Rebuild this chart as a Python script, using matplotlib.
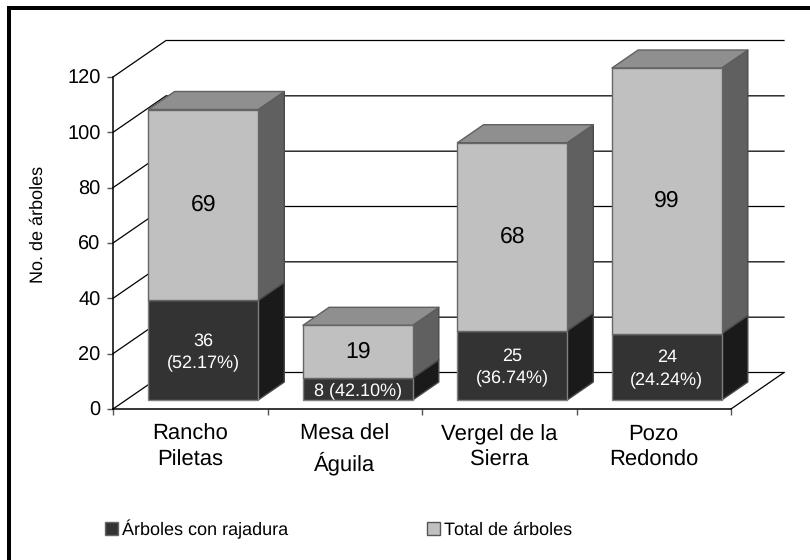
import matplotlib
matplotlib.use("Agg")
import matplotlib.pyplot as plt
import numpy as np
from matplotlib.patches import Patch, Polygon, Rectangle

plt.rcParams["font.family"] = ["Liberation Sans", "DejaVu Sans"]
plt.rcParams["text.hinting"] = "no_hinting"
plt.rcParams["text.hinting_factor"] = 1

# Datos
sitios = ["Rancho\nPiletas", "Mesa del\nÁguila", "Vergel de la\nSierra", "Pozo\nRedondo"]
rajadura = [36, 8, 25, 24]
total = [69, 19, 68, 99]
etiquetas_rajadura = ["36\n(52.17%)", "8 (42.10%)", "25\n(36.74%)", "24\n(24.24%)"]
marcas_y = [0, 20, 40, 60, 80, 100, 120]

W, H = 810, 560
fig = plt.figure(figsize=(W / 100, H / 100), dpi=100)
x0, x1, y0, y1 = 113, 731, 409, 77
ax = fig.add_axes([x0 / W, 1 - y0 / H, (x1 - x0) / W, (y0 - y1) / H])
ax.set_xlim(0, 4)
ax.set_ylim(0, 120)

# profundidad en pixeles -> unidades de datos
ux = 4 / (x1 - x0)
uy = 120 / (y0 - y1)
prof_x, prof_y = 53, 36.5


def pt(x, y, d):
    # d va de 0 (frente) a 1 (pared del fondo)
    return (x + d * prof_x * ux, y + d * prof_y * uy)


def poly(puntos, color, borde, z, lw=1.0):
    ax.add_patch(Polygon(puntos, closed=True, facecolor=color, edgecolor=borde,
                         linewidth=lw, zorder=z, clip_on=False, joinstyle="round"))


# Rejilla: pared lateral y pared del fondo
for v in marcas_y:
    ax.plot(*zip(pt(0, v, 0), pt(0, v, 1), pt(4, v, 1)), color="black", lw=0.9,
            zorder=1, clip_on=False, solid_joinstyle="miter")
ax.plot(*zip(pt(4, 0, 0), pt(4, 0, 1)), color="black", lw=0.9, zorder=1, clip_on=False)


# Barras 3D apiladas (la barra se corta en el maximo del eje, como en el original)
ancho = 0.71
d0, d1 = 9 / prof_y, 27 / prof_y


def caja(i, base, alto, frente, lado, tapa, borde, z):
    a = i + 0.5 - ancho / 2
    b = i + 0.5 + ancho / 2
    c = min(base + alto, ax.get_ylim()[1])
    poly([pt(b, base, d0), pt(b, base, d1), pt(b, c, d1), pt(b, c, d0)], lado, "#4a4a4a", z)
    if tapa is not None:
        poly([pt(a, c, d0), pt(b, c, d0), pt(b, c, d1), pt(a, c, d1)], tapa, "#606060", z)
    poly([pt(a, base, d0), pt(b, base, d0), pt(b, c, d0), pt(a, c, d0)], frente, borde, z + 0.1)
    return (base + c) / 2


for i in range(len(sitios)):
    medio = caja(i, 0, rajadura[i], "#333333", "#1a1a1a", None, "#808080", 3 + i)
    xt, yt = pt(i + 0.5, medio - 0.6, d0)
    ax.text(xt, yt, etiquetas_rajadura[i], color="white", fontsize=12.9, ha="center",
            va="center", zorder=20, linespacing=1.4)
    medio = caja(i, rajadura[i], total[i], "#c0c0c0", "#606060", "#8f8f8f", "#666666", 3 + i)
    xt, yt = pt(i + 0.5, medio, d0)
    ax.text(xt, yt, str(total[i]), color="black", fontsize=16.8, ha="center",
            va="center", zorder=20)

# Ejes
for s in ["top", "right"]:
    ax.spines[s].set_visible(False)
for s in ["left", "bottom"]:
    ax.spines[s].set_linewidth(1.1)
    ax.spines[s].set_zorder(2)
ax.patch.set_alpha(0)
ax.set_yticks(marcas_y)
ax.tick_params(axis="y", labelsize=14.2, length=4.5, width=1, color="#555555", pad=4.5)
ax.set_xticks([0, 1, 2, 3, 4])
ax.set_xticklabels([])
ax.set_xticks([0.5, 1.5, 2.5, 3.5], minor=True)
ax.set_xticklabels(sitios, minor=True, fontsize=15.5, linespacing=1.32)
ax.tick_params(axis="x", which="major", length=4.5, width=1, color="#555555")
ax.tick_params(axis="x", which="minor", length=0, pad=11)
ax.set_ylabel("No. de árboles", fontsize=12.8, y=0.555, labelpad=15)

# Leyenda
ax.legend(handles=[Patch(facecolor="#333333", edgecolor="#666666", label="Árboles con rajadura"),
                   Patch(facecolor="#c0c0c0", edgecolor="#555555", label="Total de árboles")],
          ncol=2, frameon=False, fontsize=12.7, handlelength=0.75, handleheight=0.75,
          handletextpad=0.2, columnspacing=7.9, loc="center left",
          bbox_to_anchor=((105 - 113) / (x1 - x0), (409 - 529) / (y0 - y1)), borderpad=0, borderaxespad=0)

# Marco de la figura: solo arriba y a la izquierda
fig.add_artist(Rectangle((7 / W, 0), 4 / W, 1 - 6 / H, transform=fig.transFigure,
                         facecolor="black", edgecolor="none"))
fig.add_artist(Rectangle((7 / W, 1 - 10 / H), 1 - 7 / W, 4 / H, transform=fig.transFigure,
                         facecolor="black", edgecolor="none"))

fig.savefig("out.png", dpi=100)
